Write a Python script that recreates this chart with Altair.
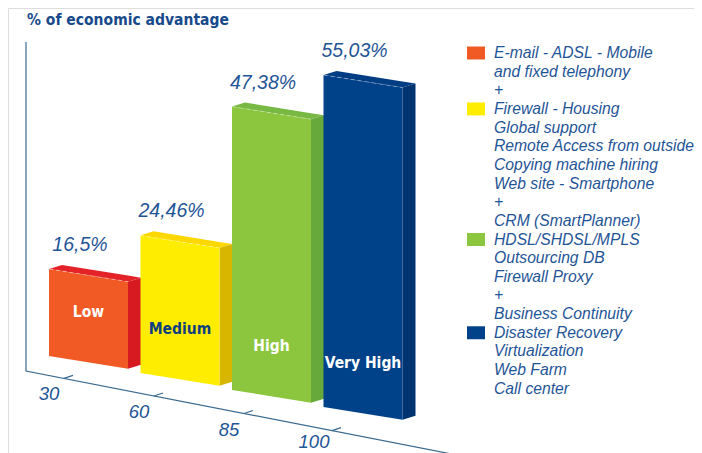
import altair as alt
import pandas as pd

# ---------------- data ----------------
levels = ["Low", "Medium", "High", "Very High"]
values = [16.5, 24.46, 47.38, 55.03]
value_labels = ["16,5%", "24,46%", "47,38%", "55,03%"]
front_colors = ["#f15a24", "#ffed00", "#8cc63f", "#00428a"]
top_colors = ["#e42329", "#fcd800", "#78b943", "#003d82"]
side_colors = ["#d71a21", "#d8b600", "#67a93b", "#003470"]
level_label_colors = ["#ffffff", "#0d3f80", "#ffffff", "#ffffff"]
tick_labels = ["30", "60", "85", "100"]
legend_lines = [
    "E-mail - ADSL - Mobile", "and fixed telephony", "+",
    "Firewall - Housing", "Global support", "Remote Access from outside",
    "Copying machine hiring", "Web site - Smartphone", "+",
    "CRM (SmartPlanner)",
    "HDSL/SHDSL/MPLS", "Outsourcing DB", "Firewall Proxy", "+",
    "Business Continuity",
    "Disaster Recovery", "Virtualization", "Web Farm", "Call center",
]
legend_marker_lines = [0, 3, 10, 15]
title_text = "% of economic advantage"

# ---------------- layout (pseudo 3-D projection) ----------------
W, H = 686, 445          # plot area = whole chart
PX = 6.36                # pixels per percentage point
V0 = 2.82                # perspective floor offset
STEP, BAR_W = 91.5, 79
BASE_X, BASE_Y, BASE_STEP = 49, 356, 17
SLOPE = 0.16
DX, DY = 13, 4
TEXT_BLUE = "#1f5597"
LINE_BLUE = "#3a6a90"
COND = "Liberation Sans Narrow, DejaVu Sans Condensed, sans-serif"


def vx(px):
    return px - 8


def vy(py):
    return (H + 8 - py) / PX


faces, edges, vlabels, llabels = [], [], [], []
for i, (lev, v) in enumerate(zip(levels, values)):
    x0 = BASE_X + STEP * i
    x1 = x0 + BAR_W
    b0 = BASE_Y + BASE_STEP * i
    b1 = b0 + SLOPE * BAR_W
    h = PX * (v - V0)
    t0, t1 = b0 - h, b1 - h
    # top face
    fid = f"{i}a_top"
    for xx, up, lo in [
        (x0, t0, t0),
        (x0 + DX, t0 - DY, t0 + SLOPE * DX),
        (x1, t1 - DY - SLOPE * DX, t1),
        (x1 + DX, t1 - DY, t1 - DY),
    ]:
        faces.append(dict(x=vx(xx), y=vy(up), y2=vy(lo), face=fid, color=top_colors[i]))
    # side face
    fid = f"{i}b_side"
    for xx, up, lo in [(x1, t1, b1), (x1 + DX, t1 - DY, b1 - DY)]:
        faces.append(dict(x=vx(xx), y=vy(up), y2=vy(lo), face=fid, color=side_colors[i]))
    # front face
    fid = f"{i}c_front"
    for xx, up, lo in [(x0, t0, b0), (x1, t1, b1)]:
        faces.append(dict(x=vx(xx), y=vy(up), y2=vy(lo), face=fid, color=front_colors[i]))
    edges += [dict(x=vx(x0), y=vy(t0), bar=i), dict(x=vx(x1), y=vy(t1), bar=i)]
    vlabels.append(dict(x=vx(x0 + 31), y=vy(t0 - 24), text=value_labels[i]))
    llabels.append(dict(x=vx((x0 + x1) / 2), y=vy((b0 + b1) / 2 - 50),
                        text=lev, color=level_label_colors[i]))

faces_df = pd.DataFrame(faces)
edges_df = pd.DataFrame(edges)
vlab_df = pd.DataFrame(vlabels)
llab_df = pd.DataFrame(llabels)

# axes frame
AX_X, AX_TOP, AX_BOT = 26, 42, 371
AX_SLOPE = 0.195
frame_df = pd.DataFrame([
    dict(x=vx(AX_X), y=vy(AX_TOP), k=0),
    dict(x=vx(AX_X), y=vy(AX_BOT), k=1),
    dict(x=vx(460), y=vy(AX_BOT + AX_SLOPE * (460 - AX_X)), k=2),
])

tick_rows, tick_text = [], []
for j, lab in enumerate(tick_labels):
    last = j == len(tick_labels) - 1
    tx = 64 + 90 * j - (2 if last else 0)
    ty = AX_BOT + AX_SLOPE * (tx - AX_X)
    tick_rows.append(dict(x=vx(tx), y=vy(ty), x2=vx(tx + 9), y2=vy(ty - 3)))
    tick_text.append(dict(x=vx(tx - 15 - (3 if last else 0)),
                          y=vy(ty + 16 - (4.5 if last else 0)), text=lab))
tick_df = pd.DataFrame(tick_rows)
ticktext_df = pd.DataFrame(tick_text)

LEG_X, LEG_Y, LEG_STEP = 494, 53, 18.65
leg_df = pd.DataFrame([
    dict(x=vx(LEG_X), y=vy(LEG_Y + LEG_STEP * k), text=t)
    for k, t in enumerate(legend_lines)
])
mark_df = pd.DataFrame([
    dict(x=vx(467), x2=vx(485), y=vy(LEG_Y + LEG_STEP * k - 6.5),
         y2=vy(LEG_Y + LEG_STEP * k + 6.5), color=front_colors[n])
    for n, k in enumerate(legend_marker_lines)
])
title_df = pd.DataFrame([dict(x=vx(27), y=vy(20), text=title_text)])

# ---------------- chart ----------------
xs = alt.Scale(domain=[0, W], nice=False, zero=False)
ys = alt.Scale(domain=[0, H / PX], nice=False, zero=False)
X = lambda f="x": alt.X(f"{f}:Q", scale=xs, axis=None)
Y = lambda f="y": alt.Y(f"{f}:Q", scale=ys, axis=None)

frame = alt.Chart(frame_df).mark_line(color=LINE_BLUE, strokeWidth=1.2).encode(
    x=X(), y=Y(), order="k:Q")
ticks = alt.Chart(tick_df).mark_rule(color=LINE_BLUE, strokeWidth=1.2).encode(
    x=X(), y=Y(), x2="x2:Q", y2="y2:Q")
tick_txt = alt.Chart(ticktext_df).mark_text(
    font="Liberation Sans", fontSize=18.5, fontStyle="italic", color=TEXT_BLUE,
    align="center", baseline="middle").encode(x=X(), y=Y(), text="text:N")

bars = alt.Chart(faces_df).mark_area(interpolate="linear").encode(
    x=X(), y=Y(), y2="y2:Q", detail="face:N",
    color=alt.Color("color:N", scale=None))
edge = alt.Chart(edges_df).mark_line(
    color="#ffffff", opacity=0.45, strokeWidth=0.8, strokeDash=[4, 3]).encode(
    x=X(), y=Y(), detail="bar:N")
vtxt = alt.Chart(vlab_df).mark_text(
    font="Liberation Sans", fontSize=19.5, fontStyle="italic", color=TEXT_BLUE,
    align="center", baseline="middle").encode(x=X(), y=Y(), text="text:N")
ltxt = alt.Chart(llab_df).mark_text(
    font=COND, fontSize=15.5, fontWeight="bold", align="center",
    baseline="middle").encode(
    x=X(), y=Y(), text="text:N", color=alt.Color("color:N", scale=None))

leg_marks = alt.Chart(mark_df).mark_rect().encode(
    x=X(), x2="x2:Q", y=Y(), y2="y2:Q", color=alt.Color("color:N", scale=None))
leg_txt = alt.Chart(leg_df).mark_text(
    font="Liberation Sans", fontSize=15.7, fontStyle="italic", color=TEXT_BLUE,
    align="left", baseline="middle").encode(x=X(), y=Y(), text="text:N")
title = alt.Chart(title_df).mark_text(
    font=COND, fontSize=15.5, fontWeight="bold", color="#174a8b",
    align="left", baseline="middle").encode(x=X(), y=Y(), text="text:N")

chart = alt.layer(
    frame, ticks, tick_txt, bars, edge, vtxt, ltxt, leg_marks, leg_txt, title
).properties(
    width=W, height=H, padding=0,
    autosize=alt.AutoSizeParams(type="none"),
).configure_view(strokeWidth=0).configure(background="#ffffff")

chart.save("out.html", embed_options={"renderer": "svg", "actions": False})
